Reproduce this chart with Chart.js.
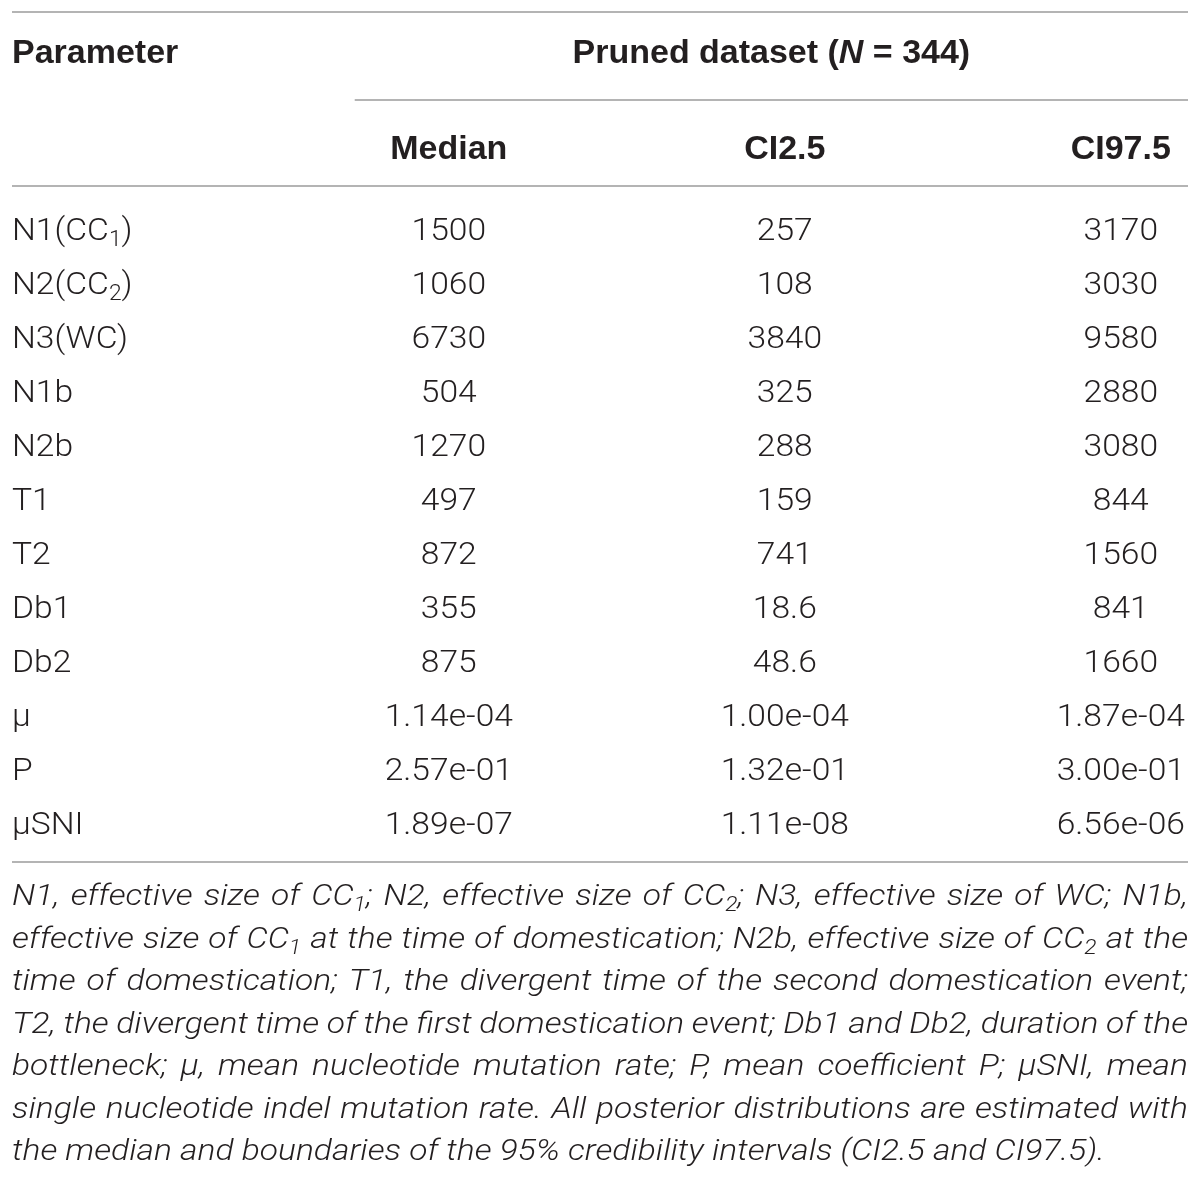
<!DOCTYPE html>
<html>
<head>
<meta charset="utf-8">
<script src="https://cdn.jsdelivr.net/npm/chart.js@4.4.1/dist/chart.umd.min.js"></script>
<style>
html, body { margin: 0; padding: 0; background: #fff; }
#wrap { width: 1200px; height: 1182px; position: relative; }
</style>
</head>
<body>
<div id="wrap"><canvas id="table"></canvas></div>
<script>
/* ------------------------------- Data -------------------------------*/
// ~x~ = subscript, *x* = italic

var params = ["N1(CC~1~)", "N2(CC~2~)", "N3(WC)", "N1b", "N2b", "T1", "T2", "Db1", "Db2", "μ", "P", "μSNI"];
var median = ["1500", "1060", "6730", "504", "1270", "497", "872", "355", "875", "1.14e-04", "2.57e-01", "1.89e-07"];
var ci25 = ["257", "108", "3840", "325", "288", "159", "741", "18.6", "48.6", "1.00e-04", "1.32e-01", "1.11e-08"];
var ci975 = ["3170", "3030", "9580", "2880", "3080", "844", "1560", "841", "1660", "1.87e-04", "3.00e-01", "6.56e-06"];
var columns = ["Median", "CI2.5", "CI97.5"];
var firstHeader = "Parameter";
var groupTitle = "Pruned dataset (*N* = 344)";
var note = [
    "N1, effective size of CC~1~; N2, effective size of CC~2~; N3, effective size of WC; N1b,",
    "effective size of CC~1~ at the time of domestication; N2b, effective size of CC~2~ at the",
    "time of domestication; T1, the divergent time of the second domestication event;",
    "T2, the divergent time of the first domestication event; Db1 and Db2, duration of the",
    "bottleneck; μ, mean nucleotide mutation rate; P, mean coefficient P; μSNI, mean",
    "single nucleotide indel mutation rate. All posterior distributions are estimated with",
    "the median and boundaries of the 95% credibility intervals (CI2.5 and CI97.5)."
];

/* ------------------------------- Layout -------------------------------*/

var X_MIN = -0.3, X_MAX = 3.2;             // one unit = one data column
var Y_TOP = -4, Y_BOTTOM = 11.74;           // one unit = one table row
var HEAD_ROW = -3.26, SUB_ROW = -1.5;
var GROUP_LINE = -2.37, HEAD_LINE = -0.78, GROUP_START = 0.72;

var TEXT = "#231f20";
var RULE = "#b4b4b4";
var bodyStyle = { family: "Roboto", weight: 300, size: 32, italic: false, stretch: 1.05 };
var boldStyle = { family: "'Liberation Sans', Arial", weight: 700, size: 33, italic: false, stretch: 1.03 };
var noteStyle = { family: "Roboto", weight: 300, size: 30, italic: true, stretch: 1.12 };

/* ------------------------------- Text helpers -------------------------------*/

function fontString(st, italic, size) {
    return (italic ? "italic " : "") + st.weight + " " + size + "px " + st.family;
}

function parseRich(text) {                  // розбиває рядок на шматки з індексами / курсивом
    var parts = [];
    var sub = false, ital = false, buf = "";
    for (var i = 0; i < text.length; i++) {
        var c = text[i];
        if (c == "~" || c == "*") {
            if (buf) parts.push({ t: buf, sub: sub, ital: ital });
            buf = "";
            if (c == "~") sub = !sub; else ital = !ital;
        } else buf += c;
    }
    if (buf) parts.push({ t: buf, sub: sub, ital: ital });
    return parts;
}

function measureRich(ctx, text, st) {
    var w = 0;
    parseRich(text).forEach(function (p) {
        ctx.font = fontString(st, st.italic || p.ital, p.sub ? st.size * 0.68 : st.size);
        w += ctx.measureText(p.t).width * st.stretch;
    });
    return w;
}

function drawRich(ctx, text, x, baseline, align, st) {
    var w = measureRich(ctx, text, st);
    var cx = align == "center" ? x - w / 2 : (align == "right" ? x - w : x);
    ctx.textAlign = "left";
    ctx.textBaseline = "alphabetic";
    ctx.fillStyle = TEXT;
    parseRich(text).forEach(function (p) {
        var size = p.sub ? st.size * 0.68 : st.size;
        ctx.font = fontString(st, st.italic || p.ital, size);
        ctx.save();
        ctx.translate(cx, baseline + (p.sub ? st.size * 0.2 : 0));
        ctx.scale(st.stretch, 1);
        ctx.fillText(p.t, 0, 0);
        ctx.restore();
        cx += ctx.measureText(p.t).width * st.stretch;
    });
}

function drawJustified(ctx, line, left, right, baseline, st, justify) {
    var words = line.split(" ");
    if (!justify) {
        drawRich(ctx, line, left, baseline, "left", st);
        return;
    }
    var widths = words.map(function (w) { return measureRich(ctx, w, st); });
    var total = widths.reduce(function (a, b) { return a + b; }, 0);
    var gap = (right - left - total) / (words.length - 1);
    var x = left;
    words.forEach(function (w, i) {
        drawRich(ctx, w, x, baseline, "left", st);
        x += widths[i] + gap;
    });
}

function hLine(ctx, x1, x2, y) {
    ctx.beginPath();
    ctx.moveTo(x1, y);
    ctx.lineTo(x2, y);
    ctx.stroke();
}

/* ------------------------------- Table plugin -------------------------------*/

var tablePlugin = {
    id: "tableText",
    afterDatasetsDraw: function (chart) {
        var ctx = chart.ctx;
        var xs = chart.scales.x, ys = chart.scales.y;
        var area = chart.chartArea;
        var capShift = bodyStyle.size * 0.36;

        ctx.save();
        ctx.strokeStyle = RULE;
        ctx.lineWidth = 2;
        hLine(ctx, area.left, area.right, ys.getPixelForValue(Y_TOP));
        hLine(ctx, xs.getPixelForValue(GROUP_START), area.right, ys.getPixelForValue(GROUP_LINE));
        hLine(ctx, area.left, area.right, ys.getPixelForValue(HEAD_LINE));
        hLine(ctx, area.left, area.right, ys.getPixelForValue(Y_BOTTOM));

        // заголовки
        var headY = ys.getPixelForValue(HEAD_ROW) + capShift;
        drawRich(ctx, firstHeader, area.left, headY, "left", boldStyle);
        var groupX = (xs.getPixelForValue(GROUP_START) + area.right) / 2;
        drawRich(ctx, groupTitle, groupX, headY, "center", boldStyle);
        columns.forEach(function (c, i) {
            drawRich(ctx, c, xs.getPixelForValue(i + 1), ys.getPixelForValue(SUB_ROW) + capShift, "center", boldStyle);
        });

        // комірки
        chart.data.datasets.forEach(function (ds, di) {
            var meta = chart.getDatasetMeta(di);
            meta.data.forEach(function (pt, i) {
                drawRich(ctx, ds.cells[i], pt.x, pt.y + capShift, ds.align, bodyStyle);
            });
        });

        // примітка
        for (var i = 0; i < note.length; i++) {
            var base = area.bottom + 43 + i * 42.5;
            drawJustified(ctx, note[i], area.left, area.right, base, noteStyle, i < note.length - 1);
        }
        ctx.restore();
    }
};

function columnData(cells, col) {
    return cells.map(function (v, i) { return { x: col, y: i }; });
}

function makeDataset(cells, col, align) {
    return {
        data: columnData(cells, col),
        cells: cells,
        align: align,
        pointRadius: 0,
        showLine: false
    };
}

var ctx = document.getElementById("table").getContext("2d");
new Chart(ctx, {
    type: "scatter",
    data: {
        datasets: [
            makeDataset(params, X_MIN, "left"),
            makeDataset(median, 1, "center"),
            makeDataset(ci25, 2, "center"),
            makeDataset(ci975, 3, "center")
        ]
    },
    options: {
        responsive: true,
        maintainAspectRatio: false,
        animation: false,
        events: [],
        layout: { padding: { left: 12, right: 12, top: 12, bottom: 320 } },
        plugins: {
            legend: { display: false },
            tooltip: { enabled: false }
        },
        scales: {
            x: { type: "linear", min: X_MIN, max: X_MAX, display: false },
            y: { type: "linear", min: Y_TOP, max: Y_BOTTOM, reverse: true, display: false }
        }
    },
    plugins: [tablePlugin]
});
</script>
</body>
</html>
